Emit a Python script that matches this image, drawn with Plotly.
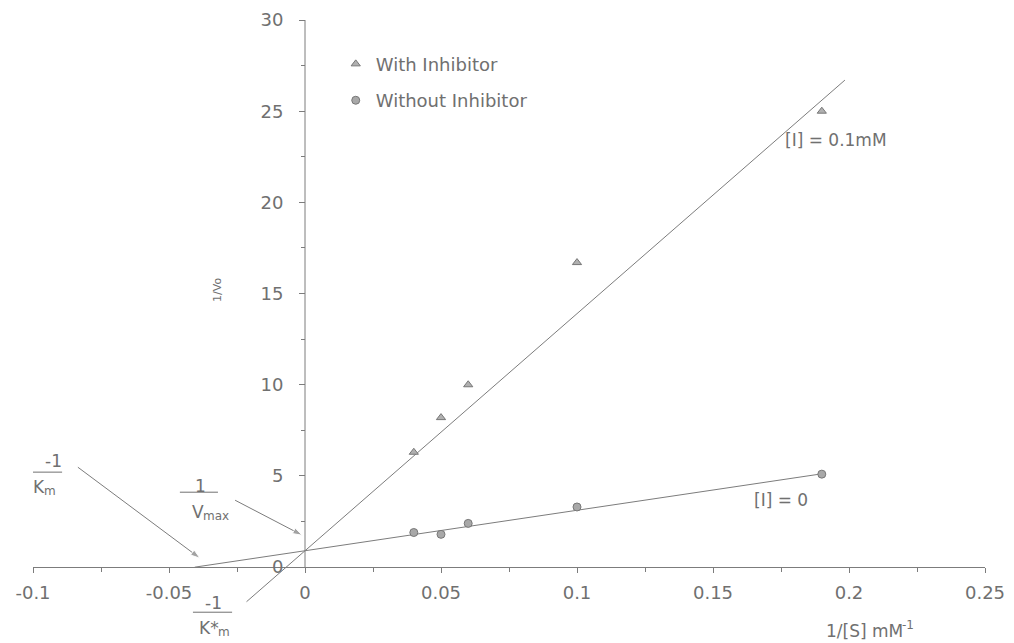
import plotly.graph_objects as go

# Lineweaver-Burk data: 1/[S] (mM^-1) versus 1/Vo
s_inv = [0.04, 0.05, 0.06, 0.10, 0.19]
v_inv_inhib = [6.3, 8.2, 10.0, 16.7, 25.0]
v_inv_free = [1.9, 1.8, 2.4, 3.3, 5.1]

# straight-line fits: (intercept, slope)
fit_inhib = (0.9, 130.0)
fit_free = (0.9, 22.2)
inhib_x_ends = [-0.0215, 0.1985]
free_x_ends = [-fit_free[0] / fit_free[1], 0.19]

x_tickvals = [-0.1, -0.05, 0, 0.05, 0.1, 0.15, 0.2, 0.25]
x_ticktext = ["-0.1", "-0.05", "0", "0.05", "0.1", "0.15", "0.2", "0.25"]
x_minorvals = [-0.075, -0.025, 0.025, 0.075, 0.125, 0.175, 0.225]
y_tickvals = [0, 5, 10, 15, 20, 25, 30]
y_minorvals = [2.5, 7.5, 12.5, 17.5, 22.5, 27.5]

X_RANGE = [-0.1, 0.25]
Y_RANGE = [-3.5, 30]

INK = "#707070"
LINE = "#7c7c7c"
FONT = "DejaVu Sans"


def line_y(fit, xs):
    b, m = fit
    return [b + m * x for x in xs]


fig = go.Figure()

fig.add_trace(go.Scatter(
    x=inhib_x_ends, y=line_y(fit_inhib, inhib_x_ends), mode="lines",
    line=dict(color=LINE, width=1), showlegend=False, hoverinfo="skip"))
fig.add_trace(go.Scatter(
    x=free_x_ends, y=line_y(fit_free, free_x_ends), mode="lines",
    line=dict(color=LINE, width=1), showlegend=False, hoverinfo="skip"))

fig.add_trace(go.Scatter(
    x=s_inv, y=v_inv_inhib, mode="markers", name="With Inhibitor",
    legendgroup="a",
    marker=dict(symbol="triangle-up", size=8, color="#b0b0b0",
                line=dict(color="#777777", width=1))))
fig.add_trace(go.Scatter(
    x=s_inv, y=v_inv_free, mode="markers", name="Without Inhibitor",
    legendgroup="b",
    marker=dict(symbol="circle", size=8, color="#a8a8a8",
                line=dict(color="#777777", width=1))))

# pointer arrows to the intercepts (tail -> head)
arrows = [
    ((-0.0835, 5.48), (-0.0386, 0.49)),
    ((-0.0257, 3.67), (-0.001, 1.75)),
]
for (tx, ty), (hx, hy) in arrows:
    fig.add_trace(go.Scatter(
        x=[tx, hx], y=[ty, hy], mode="lines+markers",
        line=dict(color=LINE, width=1),
        marker=dict(symbol="arrow", angleref="previous", size=[0, 10],
                    color=LINE),
        showlegend=False, hoverinfo="skip"))

# vertical axis line from 0 up to 30
fig.add_shape(type="line", x0=0, x1=0, y0=0, y1=30, xref="x", yref="y",
              line=dict(color=LINE, width=1))

# fraction bars
frac_bars = [
    (-0.1029, -0.0893, 5.21),
    (-0.046, -0.032, 4.11),
    (-0.0412, -0.0268, -2.47),
]
for x0, x1, yb in frac_bars:
    fig.add_shape(type="line", x0=x0, x1=x1, y0=yb, y1=yb, xref="x", yref="y",
                  line=dict(color=INK, width=1))

# (text, x, y, xanchor, size, xshift, yshift)
labels = [
    ("-1", -0.0926, 5.81, "center", 17, 0, 0),
    ("K", -0.0956, 4.39, "right", 17, 2, 0),
    ("m", -0.0956, 4.39, "left", 12, -3, -4),
    ("1", -0.0386, 4.44, "center", 17, 0, 0),
    ("V", -0.0371, 3.02, "right", 17, 2, 0),
    ("max", -0.0371, 3.02, "left", 12, -3, -4),
    ("-1", -0.0338, -1.97, "center", 17, 0, 0),
    ("K*", -0.0316, -3.34, "right", 17, 2, 0),
    ("m", -0.0316, -3.34, "left", 12, -3, -4),
    ("[I] = 0.1mM", 0.1757, 23.41, "left", 17, 0, 0),
    ("[I] = 0", 0.1643, 3.67, "left", 17, 0, 0),
    ("1/[S] mM", 0.2199, -3.5, "right", 17, 2, 0),
    ("-1", 0.2199, -3.5, "left", 12, -3, 6),
]
for txt, x, y, xa, sz, dx, dy in labels:
    fig.add_annotation(text=txt, x=x, y=y, xref="x", yref="y", xanchor=xa,
                       yanchor="middle", showarrow=False,
                       xshift=dx, yshift=dy,
                       font=dict(family=FONT, size=sz, color=INK))

fig.add_annotation(text="1/Vo", x=-0.0324, y=15.19, xref="x", yref="y",
                   textangle=-90, showarrow=False,
                   font=dict(family=FONT, size=11, color=INK))

x_pos = (0 - Y_RANGE[0]) / (Y_RANGE[1] - Y_RANGE[0])
y_pos = (0 - X_RANGE[0]) / (X_RANGE[1] - X_RANGE[0])

fig.update_layout(
    width=1014, height=643,
    margin=dict(l=33, r=29, t=20, b=12),
    paper_bgcolor="white", plot_bgcolor="white",
    font=dict(family=FONT, color=INK),
    legend=dict(x=0.318, y=0.958, xanchor="left", yanchor="top",
                font=dict(family=FONT, size=18, color=INK),
                tracegroupgap=10, bgcolor="rgba(0,0,0,0)", itemwidth=30),
    xaxis=dict(range=X_RANGE, anchor="free", position=x_pos,
               showgrid=False, zeroline=False, showline=True,
               linecolor=LINE, linewidth=1,
               tickmode="array", tickvals=x_tickvals, ticktext=x_ticktext,
               ticks="outside", ticklen=5, tickcolor=LINE,
               ticklabelstandoff=4,
               tickfont=dict(family=FONT, size=18, color=INK),
               minor=dict(tickvals=x_minorvals, ticks="outside", ticklen=4,
                          tickcolor=LINE),
               automargin=False),
    yaxis=dict(range=Y_RANGE, anchor="free", position=y_pos,
               showgrid=False, zeroline=False, showline=False,
               tickmode="array", tickvals=y_tickvals,
               ticks="outside", ticklen=6, tickcolor=LINE,
               ticklabelstandoff=12,
               tickfont=dict(family=FONT, size=18, color=INK),
               minor=dict(tickvals=y_minorvals, ticks="outside", ticklen=4,
                          tickcolor=LINE),
               automargin=False),
)

fig.write_html("out.html")
